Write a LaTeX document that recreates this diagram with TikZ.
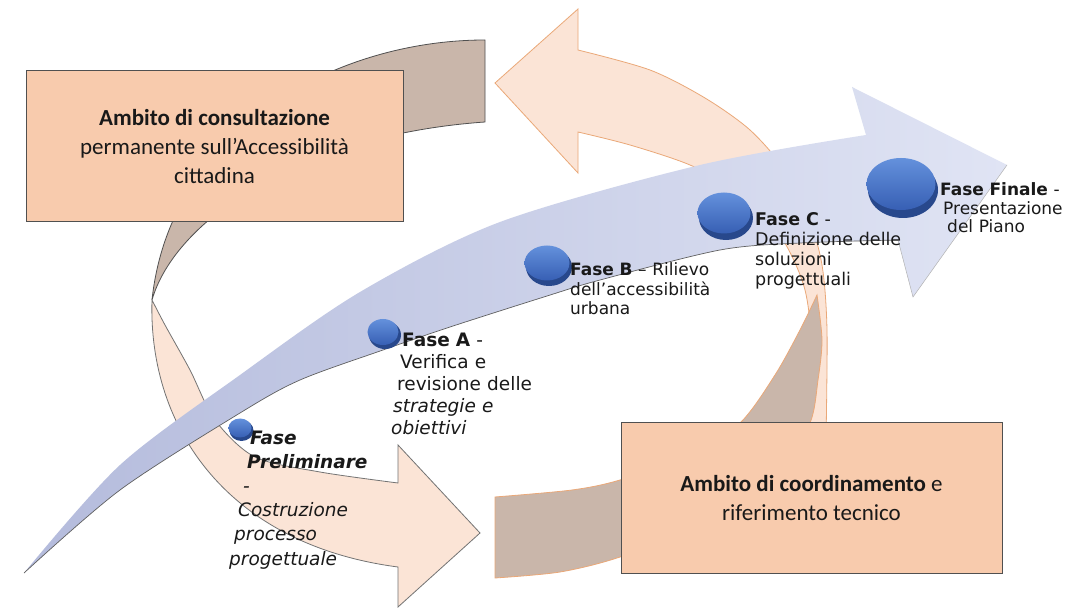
\documentclass[tikz,border=0pt]{standalone}
\usepackage{fontspec}
\setmainfont{Carlito}
\newfontfamily\labfont{DejaVu Sans}
\usetikzlibrary{shapes.geometric}
\definecolor{peachF}{RGB}{251,228,214}
\definecolor{brownB}{RGB}{201,182,170}
\definecolor{boxF}{RGB}{248,203,173}
\definecolor{edgeG}{RGB}{80,80,80}
\definecolor{orangeE}{RGB}{234,168,120}
\definecolor{blueL}{RGB}{180,187,220}
\definecolor{blueR}{RGB}{224,228,244}
\definecolor{discTop}{RGB}{100,145,220}
\definecolor{discBot}{RGB}{55,95,180}
\definecolor{discRim}{RGB}{40,72,140}
\definecolor{txt}{RGB}{25,25,25}
\begin{document}
\begin{tikzpicture}[x=1pt,y=-1pt,
  boxstyle/.style={draw=edgeG, line width=1pt, fill=boxF, align=center, inner sep=0pt, text=txt, font=\fontsize{23}{29}\selectfont},
  discrim/.style={ellipse, fill=discRim, inner sep=0pt},
  disctop/.style={ellipse, top color=discTop, bottom color=discBot, inner sep=0pt},
  phlabel/.style={anchor=base west, text width=240pt, align=left, inner sep=0pt, text=txt},
  backband/.style={fill=brownB, line width=0.8pt},
  frontband/.style={fill=peachF, line width=0.8pt}
]
\useasboundingbox (0,0) rectangle (1079,609);
\fill[white] (0,0) rectangle (1079,609);

% arrow A : back face (brown), top left
\path[backband, draw=edgeG] (485,40) .. controls (335,40) and (170,130) .. (152,300)
  .. controls (175,220) and (300,135) .. (485,122) -- cycle;

% arrow A : front face (peach) with head pointing right
\path[frontband, draw=edgeG!80] (152,300) .. controls (148,430) and (230,545) .. (398,567)
  -- (398,607) -- (480,533) -- (398,445) -- (398,483)
  -- plot[smooth] coordinates {(398,483) (320,472) (255,457) (215,420) (190,370) (165,325) (152,300)} -- cycle;

% arrow B : front face (peach) with head pointing left
\path[frontband, draw=orangeE] (495,83) -- (578,9) -- (578,50)
  -- plot[smooth] coordinates {(578,50) (650,70) (705,98) (750,130) (785,170) (808,215) (822,265) (827,330) (826,440)}
  -- (805,440)
  -- plot[smooth] coordinates {(805,440) (812,360) (805,290) (780,235) (740,192) (690,165) (630,145) (578,132)}
  -- (578,173) -- cycle;

% arrow B : back face (brown), bottom
\path[backband, draw=orangeE] (495,497)
  -- plot[smooth] coordinates {(495,497) (572,490) (620,480) (690,455) (740,423) (775,375) (800,330) (817,295)}
  -- plot[smooth] coordinates {(817,295) (822,340) (818,380) (810,423) (780,470) (700,525) (620,557) (560,572) (495,578)}
  -- cycle;

% big blue curved arrow
\shade[left color=blueL, right color=blueR] (24,573)
  -- plot[smooth] coordinates {(24,573) (120,465) (240,375) (360,292) (500,222) (700,165) (866,135)}
  -- (852,87) -- (1007,165) -- (913,297) -- (898,240)
  -- plot[smooth] coordinates {(898,240) (800,243) (720,250) (600,280) (547,296) (450,327) (383,350) (300,380) (240,413) (120,490) (24,573)}
  -- cycle;
\draw[gray!75!black, line width=0.7pt]
  plot[smooth] coordinates {(898,240) (800,243) (720,250) (600,280) (547,296) (450,327) (383,350) (300,380) (240,413) (120,490) (24,573)};
\draw[gray!60, line width=0.5pt] (898,240) -- (913,297) -- (1007,165);

% discs
\node[discrim, minimum width=24pt, minimum height=21pt] (dPr) at (241.5,430.5) {};
\node[disctop, minimum width=23pt, minimum height=19pt] (dP) at (240,428) {};
\node[discrim, minimum width=32pt, minimum height=28pt] (dAr) at (385,335) {};
\node[disctop, minimum width=31pt, minimum height=26pt] (dA) at (383,332) {};
\node[discrim, minimum width=46pt, minimum height=38pt] (dBr) at (549,267) {};
\node[disctop, minimum width=45pt, minimum height=35pt] (dB) at (547,263) {};
\node[discrim, minimum width=54pt, minimum height=44pt] (dCr) at (726,218) {};
\node[disctop, minimum width=53pt, minimum height=41pt] (dC) at (724,213) {};
\node[discrim, minimum width=70pt, minimum height=56pt] (dFr) at (903,190) {};
\node[disctop, minimum width=69pt, minimum height=52pt] (dF) at (901,184) {};

% boxes
\node[boxstyle, minimum width=377pt, minimum height=151pt] (b1) at (214.5,146.5)
  {\textbf{Ambito di consultazione}\\permanente sull’Accessibilità\\cittadina};
\node[boxstyle, minimum width=381pt, minimum height=150pt] (b2) at (811.5,498)
  {\textbf{Ambito di coordinamento} e\\riferimento tecnico};

% phase labels
\node[phlabel, font=\labfont\fontsize{18.5}{24.2}\selectfont\itshape] (tP) at (229,444)
  {\hspace*{21pt}\textbf{Fase}\\\hspace*{18pt}\textbf{Preliminare}\\\hspace*{14pt}-\\\hspace*{9pt}Costruzione\\\hspace*{5pt}processo\\progettuale};
\node[phlabel, font=\labfont\fontsize{18.5}{22}\selectfont] (tA) at (391,347)
  {\hspace*{11pt}\textbf{Fase A} -\\\hspace*{9pt}Verifica e\\\hspace*{6pt}revisione delle\\\hspace*{2pt}\textit{strategie e}\\\textit{obiettivi}};
\node[phlabel, font=\labfont\fontsize{17}{19.5}\selectfont] (tB) at (570,276)
  {\textbf{Fase B} – Rilievo\\dell’accessibilità\\urbana};
\node[phlabel, font=\labfont\fontsize{17.5}{20}\selectfont] (tC) at (755,226)
  {\textbf{Fase C} -\\Definizione delle\\soluzioni\\progettuali};
\node[phlabel, font=\labfont\fontsize{17}{18.5}\selectfont] (tF) at (940,196)
  {\textbf{Fase Finale} -\\\hspace*{3pt}Presentazione\\\hspace*{7pt}del Piano};
\end{tikzpicture}
\end{document}
